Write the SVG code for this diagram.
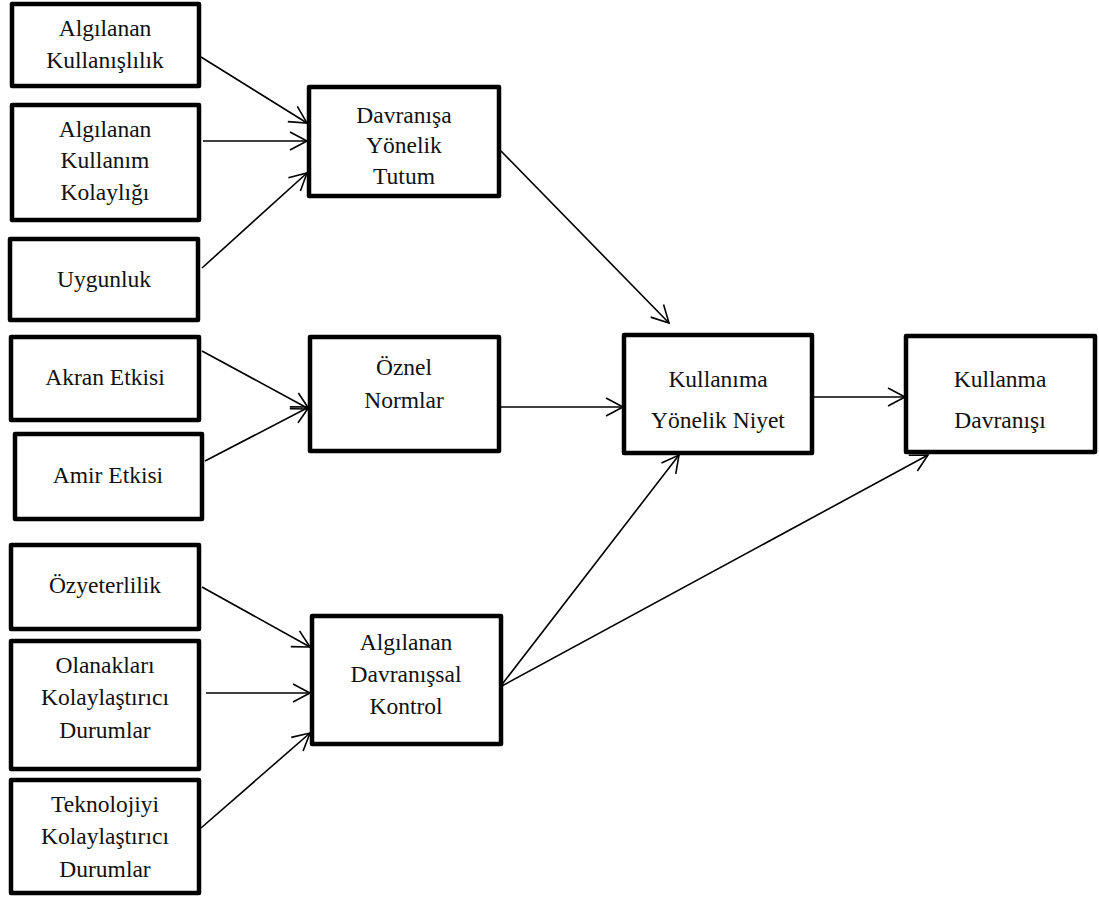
<svg xmlns="http://www.w3.org/2000/svg" width="1099" height="906" viewBox="0 0 1099 906">
<style>
.box{fill:#fff;stroke:#000;stroke-width:4.5;stroke-linejoin:round}
.t{font-family:'Liberation Serif','DejaVu Serif','Noto Serif',Tinos,serif;font-size:23.5px;fill:#111;text-anchor:middle}
.c{stroke:#000;stroke-width:1.6;fill:none;marker-end:url(#ah)}
</style>
<defs>
<marker id="ah" viewBox="-19 -11 21 22" refX="0" refY="0" markerWidth="21" markerHeight="22" markerUnits="userSpaceOnUse" orient="auto">
<path d="M-17,-9 L0,0 L-17,9" fill="none" stroke="#000" stroke-width="1.6"/>
</marker>
</defs>
<rect width="1099" height="906" fill="#fff"/>
<g id="connectors">
<line class="c" x1="201" y1="57" x2="307" y2="123"/>
<line class="c" x1="203" y1="141" x2="307" y2="141"/>
<line class="c" x1="202" y1="268" x2="307" y2="173"/>
<line class="c" x1="500" y1="150" x2="669" y2="323"/>
<line class="c" x1="202" y1="351" x2="309" y2="409"/>
<line class="c" x1="205" y1="461" x2="309" y2="407"/>
<line class="c" x1="501" y1="407" x2="623" y2="407"/>
<line class="c" x1="814" y1="397" x2="905" y2="397"/>
<line class="c" x1="202" y1="587" x2="310" y2="647"/>
<line class="c" x1="206" y1="693" x2="310" y2="693"/>
<line class="c" x1="201" y1="828" x2="310" y2="733"/>
<line class="c" x1="500" y1="687" x2="679" y2="455"/>
<line class="c" x1="500" y1="687" x2="928" y2="455"/>
</g>
<g id="n-kullanislilik">
<rect class="box" x="12" y="4" width="187" height="82"/>
<text class="t" x="105" y="36">Algılanan</text>
<text class="t" x="105" y="68">Kullanışlılık</text>
</g>
<g id="n-kolaylik">
<rect class="box" x="12" y="105" width="187" height="115"/>
<text class="t" x="105" y="137">Algılanan</text>
<text class="t" x="105" y="168">Kullanım</text>
<text class="t" x="105" y="200">Kolaylığı</text>
</g>
<g id="n-uygunluk">
<rect class="box" x="10" y="239" width="188" height="81"/>
<text class="t" x="104" y="287">Uygunluk</text>
</g>
<g id="n-akran">
<rect class="box" x="11" y="337" width="188" height="83"/>
<text class="t" x="105" y="385">Akran Etkisi</text>
</g>
<g id="n-amir">
<rect class="box" x="15" y="434" width="187" height="85"/>
<text class="t" x="108" y="483">Amir Etkisi</text>
</g>
<g id="n-ozyeterlilik">
<rect class="box" x="11" y="545" width="188" height="84"/>
<text class="t" x="105" y="593">Özyeterlilik</text>
</g>
<g id="n-olanaklari">
<rect class="box" x="11" y="641" width="188" height="128"/>
<text class="t" x="105" y="673">Olanakları</text>
<text class="t" x="105" y="705">Kolaylaştırıcı</text>
<text class="t" x="105" y="738">Durumlar</text>
</g>
<g id="n-teknoloji">
<rect class="box" x="11" y="780" width="188" height="113"/>
<text class="t" x="105" y="812">Teknolojiyi</text>
<text class="t" x="105" y="844">Kolaylaştırıcı</text>
<text class="t" x="105" y="877">Durumlar</text>
</g>
<g id="n-tutum">
<rect class="box" x="309" y="87" width="190" height="109"/>
<text class="t" x="404" y="123">Davranışa</text>
<text class="t" x="404" y="153">Yönelik</text>
<text class="t" x="404" y="184">Tutum</text>
</g>
<g id="n-oznel">
<rect class="box" x="310" y="337" width="189" height="114"/>
<text class="t" x="404" y="375">Öznel</text>
<text class="t" x="404" y="408">Normlar</text>
</g>
<g id="n-kontrol">
<rect class="box" x="312" y="616" width="189" height="128"/>
<text class="t" x="406" y="650">Algılanan</text>
<text class="t" x="406" y="682">Davranışsal</text>
<text class="t" x="406" y="714">Kontrol</text>
</g>
<g id="n-niyet">
<rect class="box" x="624" y="335" width="188" height="118"/>
<text class="t" x="718" y="387">Kullanıma</text>
<text class="t" x="718" y="428">Yönelik Niyet</text>
</g>
<g id="n-davranis">
<rect class="box" x="906" y="336" width="189" height="116"/>
<text class="t" x="1000" y="387">Kullanma</text>
<text class="t" x="1000" y="428">Davranışı</text>
</g>
</svg>
